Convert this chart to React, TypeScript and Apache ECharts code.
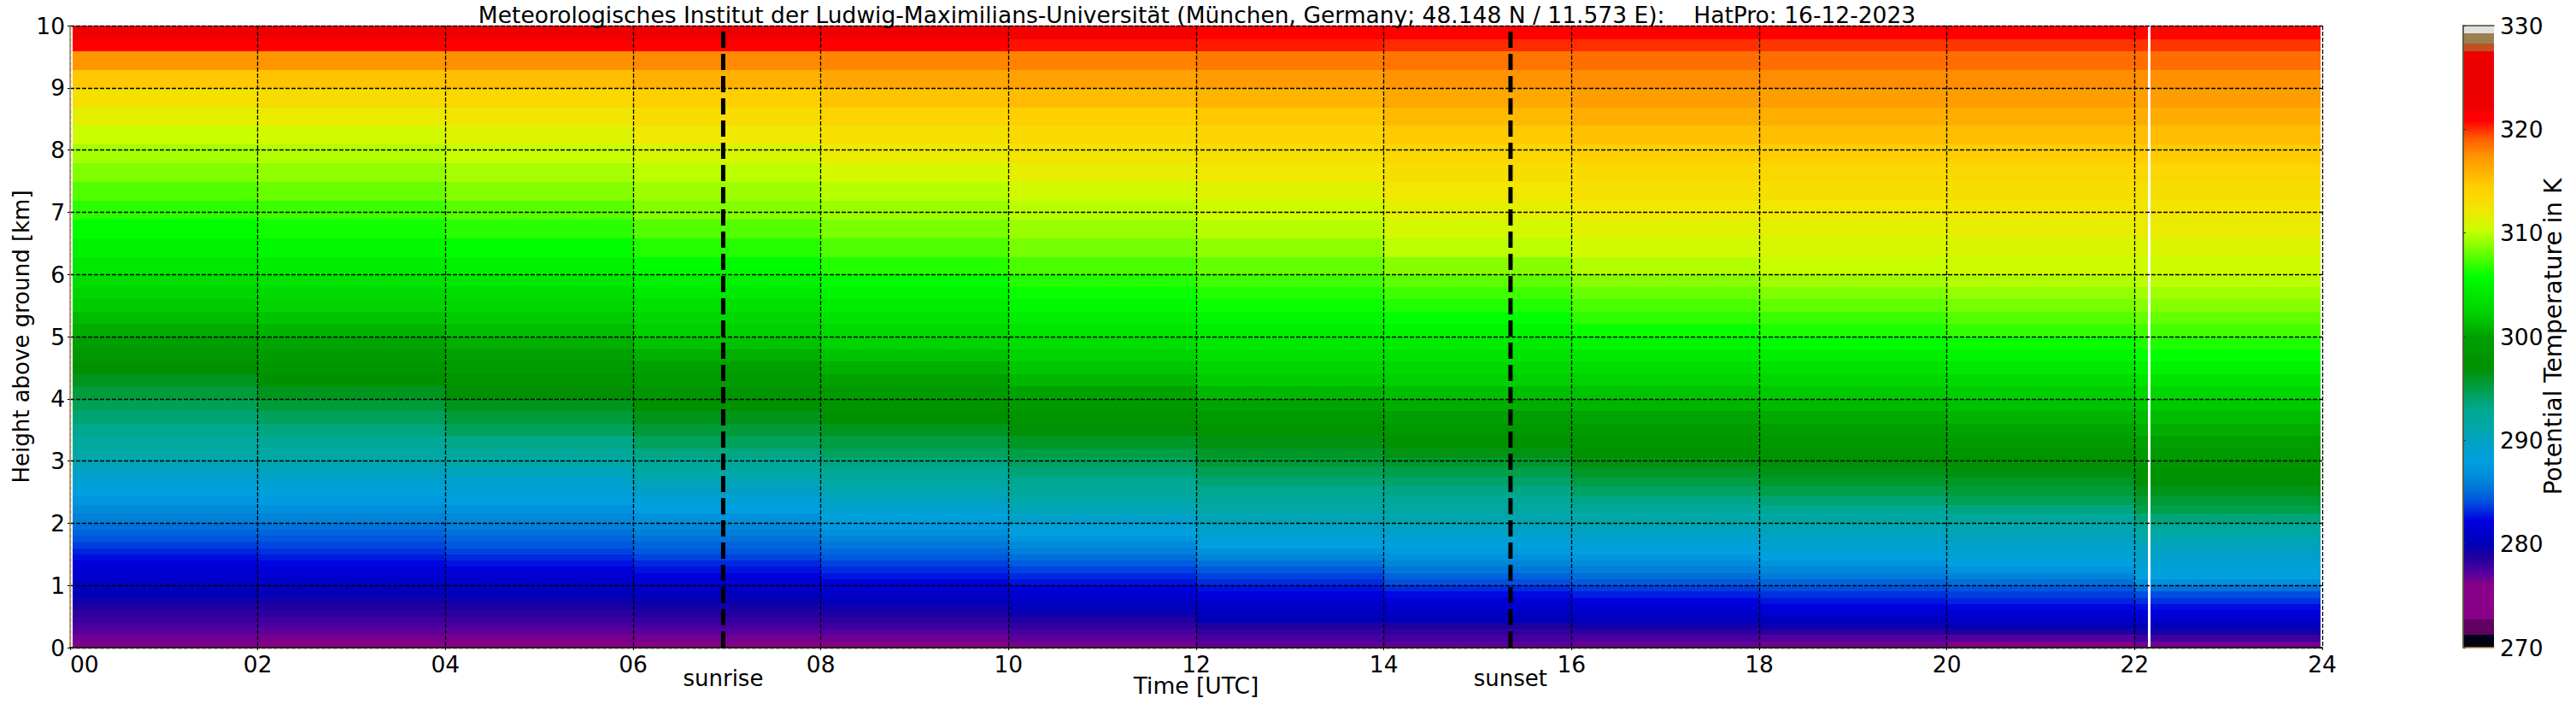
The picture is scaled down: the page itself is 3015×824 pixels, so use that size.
import React, { useEffect, useRef } from "react";
import * as echarts from "echarts";

const FONT = "DejaVu Sans";
const TITLE = "Meteorologisches Institut der Ludwig-Maximilians-Universität (München, Germany; 48.148 N / 11.573 E):\u00a0\u00a0\u00a0\u00a0HatPro: 16-12-2023";

// column edges in hours UTC
const timeEdges = [0.03, 2, 4, 6, 8, 10, 12, 14, 16, 18, 20, 22, 23.98];
// retrieval level edges in km
const heightEdges = [
  0, 0.1, 0.2, 0.3, 0.4, 0.5, 0.6, 0.7, 0.8, 0.9, 1.0, 1.1, 1.2, 1.3, 1.4, 1.5, 1.6, 1.7, 1.8, 1.9, 2.0,
  2.15, 2.3, 2.45, 2.6, 2.75, 2.9, 3.05, 3.2,
  3.4, 3.6, 3.8, 4.0, 4.2, 4.4, 4.6, 4.8, 5.0, 5.2, 5.4, 5.6, 5.8, 6.0,
  6.28, 6.58, 6.88, 7.18, 7.49, 7.79, 8.09, 8.39, 8.68, 9.0, 9.29, 9.59, 9.78, 10,
];

// potential temperature (K), bottom level to top level, one list per time column
const theta01 = [276.2,276.6,277.1,277.5,277.9,278.3,278.7,279.3,280,280.4,280.8,281.2,281.6,282,282.5,283,283.6,284.2,284.7,285.2,285.9,286.6,287.4,288.1,288.9,289.8,290.6,291.3,292,293,293.8,294.6,295.4,296.2,297,298.3,299.7,300.6,301.3,302,302.6,303.2,304,304.8,305.7,306.7,307.6,308.6,309.5,310.4,311.5,312.8,314.8,317.3,321.5,323];
const theta03 = [276,276.4,276.9,277.4,277.8,278.3,278.7,279.2,279.8,280.3,280.8,281.3,281.8,282.3,282.8,283.3,283.8,284.3,284.8,285.3,286,286.8,287.6,288.4,289.2,290,290.9,291.6,292.4,293.5,294.5,295.4,296.2,297,298.1,299.2,300.2,300.9,301.6,302.4,303,303.6,304.4,305.3,306.2,307.1,308.1,309,309.8,310.7,311.8,313.3,315,317.3,321.2,323];
const theta05 = [276,276.4,276.9,277.4,277.9,278.4,278.9,279.4,280,280.5,281,281.5,282,282.6,283.1,283.7,284.3,284.8,285.3,285.8,286.4,287.1,287.9,288.7,289.5,290.3,291.2,292.1,293.2,294.5,295.4,296.2,297,298,299,300,300.7,301.4,302,302.7,303.3,304,304.8,305.7,306.7,307.7,308.7,309.5,310.3,311.2,312.2,313.6,315.3,317.6,321,323];
const theta07 = [276,276.5,277.1,277.6,278.1,278.6,279.1,279.7,280.3,280.9,281.4,282,282.6,283.1,283.7,284.3,284.8,285.3,285.8,286.4,287,287.9,288.8,289.7,290.5,291.5,292.4,293.4,294.5,295.5,296.3,297.2,298.2,299.1,300,300.7,301.5,302.2,302.8,303.5,304.2,304.8,305.6,306.6,307.6,308.7,309.3,310,310.9,312,313.2,314.4,316,317.8,321,322.5];
const theta09 = [276,276.6,277.2,277.8,278.3,278.9,279.5,280.2,280.8,281.4,282,282.6,283.2,283.7,284.3,284.9,285.5,286.1,286.8,287.4,288.2,289.1,290,290.8,291.7,292.6,293.5,294.4,295.2,296.1,297,298,299,300,300.8,301.6,302.4,303,303.7,304.4,305.1,305.8,306.6,307.5,308.5,309.2,309.9,310.8,311.8,312.8,313.9,315,316.5,317.9,320.8,322];
const theta11 = [276.4,277,277.6,278.2,278.7,279.6,280.3,280.9,281.4,282,282.6,283.1,283.7,284.4,285.1,285.8,286.5,287.3,288,288.7,289.5,290.5,291.4,292.1,292.9,293.7,294.4,295.1,296,296.8,297.9,299.1,300.2,301,301.8,302.5,303.2,303.9,304.6,305.3,306,306.6,307.4,308.4,309.2,309.9,310.7,311.6,312.5,313.4,314.4,315.4,316.7,318,320.5,321.8];
const theta13 = [276.9,277.5,278.1,278.7,280,280.5,281,281.5,282,282.6,283.2,283.7,284.4,285.3,286.2,287.1,288,288.6,289.2,289.8,290.5,291.4,292.2,293,293.8,294.7,295.4,295.9,296.6,297.7,299,300.2,301.1,302,302.7,303.4,304,304.6,305.3,306,306.6,307.2,308,309,309.9,310.5,311.3,312.1,313,313.9,314.8,315.8,317,318.2,320.3,321.5];
const theta15 = [277,277.6,278.2,278.8,280.1,280.7,281.2,281.7,282.4,283.2,284,284.7,285.5,286.2,286.9,287.6,288.3,288.9,289.5,290.1,290.9,291.7,292.5,293.3,294.1,294.9,295.7,296.5,297.3,298.5,299.7,300.6,301.4,302.2,302.9,303.6,304.3,305.1,305.8,306.5,307.2,307.9,308.8,310,310.8,311.4,312.1,313,313.8,314.7,315.5,316.4,317.4,318.4,320,321];
const theta17 = [276.8,277.5,278.3,279.4,280.3,280.9,281.6,282.2,282.9,283.6,284.4,285.1,285.8,286.5,287.3,288,288.6,289.2,289.8,290.4,291.2,292.2,293.3,294.3,295.2,296,296.6,297.4,298.2,299.3,300.2,300.9,301.6,302.4,303.3,304.2,305.1,306,306.8,307.4,308.1,308.8,309.8,310.7,311.3,312,312.8,313.5,314.4,315.2,316.1,316.9,317.7,318.6,319.9,321];
const theta19 = [276.5,277.3,278.4,279.6,280.5,281.3,282,282.7,283.3,284,284.8,285.6,286.4,287.2,288,288.5,289.1,289.6,290.2,290.7,291.6,292.7,293.9,295,295.8,296.4,296.9,297.7,298.6,299.7,300.5,301.2,301.9,302.7,303.5,304.6,305.6,306.4,307.1,307.9,308.6,309.4,310.3,310.9,311.4,312.1,312.9,313.7,314.5,315.3,316.1,316.9,317.7,318.6,319.8,320.8];
const theta21 = [276.1,277.2,278.7,280.1,280.9,281.6,282.3,283,283.6,284.3,285.2,286.1,287.1,288,288.5,289,289.5,290,290.5,291,292,293.4,294.7,295.4,296,296.7,297.4,298.2,299.2,300.2,300.9,301.5,302.1,303,304,305,306,306.9,307.7,308.4,309.1,309.8,310.5,311,311.6,312.2,313,313.7,314.5,315.3,316.1,316.9,317.7,318.6,319.8,320.8];
const theta23 = [276.5,277.8,279.1,280.2,281,281.8,282.5,283.3,284,285.4,286.8,288,288.5,288.9,289.4,289.8,290.3,290.8,291.5,292.4,293.6,295,295.6,296.3,296.9,297.6,298.3,299.1,300,300.6,301.3,301.9,302.7,303.7,304.8,305.8,306.5,307.3,308,308.8,309.4,310,310.6,311.1,311.7,312.3,313,313.8,314.6,315.4,316.2,316.9,317.6,318.6,319.8,320.7];
const thetaColumns = [theta01, theta03, theta05, theta07, theta09, theta11, theta13, theta15, theta17, theta19, theta21, theta23];

// data gap (no measurement), hours UTC
const dataGaps = [[22.14, 22.17]];
const sunEvents = [
  { name: "sunrise", time: 6.96 },
  { name: "sunset", time: 15.35 },
];

// colour scale
const cmapLevels = [270,270.35,270.4,271.3,271.35,272.8,272.85,276,277.3,278.7,280,282.2,284,285.8,288,289.6,291.2,293,294.8,297,300,302.2,305.8,308.6,310.3,312,314.4,316,317.6,319,319.9,320.8,321.5,322,327.4,327.45,328.3,328.35,329.2,329.25,330];
const cmapColors = ["#100000","#100000","#000018","#000018","#600060","#600060","#880088","#880088","#5000a0","#2000a0","#0000b8","#0000e0","#0050e0","#0080d8","#00a0e0","#00a0c8","#00a8a8","#00a890","#00a050","#009000","#00a000","#00d000","#00ff00","#7fff00","#c8ff00","#f0e800","#ffd000","#ffb000","#ff9000","#ff6000","#ff3000","#ff0000","#ff0000","#ee0000","#ee0000","#c05020","#c05020","#9a8050","#9a8050","#e0e0e0","#e0e0e0"];

function hexToRgb(h: string) {
  return [parseInt(h.slice(1, 3), 16), parseInt(h.slice(3, 5), 16), parseInt(h.slice(5, 7), 16)];
}
function colorOf(v: number) {
  if (v <= cmapLevels[0]) return cmapColors[0];
  for (let i = 1; i < cmapLevels.length; i++) {
    if (v <= cmapLevels[i]) {
      const f = (v - cmapLevels[i - 1]) / (cmapLevels[i] - cmapLevels[i - 1]);
      const a = hexToRgb(cmapColors[i - 1]);
      const b = hexToRgb(cmapColors[i]);
      return `rgb(${a.map((c, k) => Math.round(c + (b[k] - c) * f)).join(",")})`;
    }
  }
  return cmapColors[cmapColors.length - 1];
}

const TAN = "#a89060";

function cellRender(_: any, api: any) {
  const p0 = api.coord([api.value(0), api.value(2)]);
  const p1 = api.coord([api.value(1), api.value(3)]);
  const x0 = Math.round(p0[0]);
  const x1 = Math.round(p1[0]);
  const y0 = Math.round(p0[1]);
  const y1 = Math.round(p1[1]);
  return {
    type: "rect",
    shape: { x: x0, y: y1, width: x1 - x0, height: y0 - y1 },
    style: { fill: api.value(4) < 0 ? "#ffffff" : colorOf(api.value(4)) },
  };
}

export default function App() {
  const ref = useRef<HTMLDivElement>(null);
  useEffect(() => {
    document.body.style.margin = "0";
    const chart = echarts.init(ref.current!, null, { renderer: "svg" });

    const cells: number[][] = [];
    thetaColumns.forEach((col, i) => {
      col.forEach((v, j) => {
        cells.push([timeEdges[i], timeEdges[i + 1], heightEdges[j], heightEdges[j + 1], v]);
      });
    });
    const gapCells = dataGaps.map((g) => [g[0], g[1], 0, 10, -1]);
    const barCells: number[][] = [];
    for (let t = cmapLevels[0]; t < 330; t += 0.25) barCells.push([0, 1, t, t + 0.25, t + 0.125]);

    const label = { fontFamily: FONT, fontSize: 26.5, color: "#000" };
    const dashed = { show: true, lineStyle: { color: "#000", width: 1.3, type: [5, 2] as any } };

    chart.setOption({
      animation: false,
      backgroundColor: "#fff",
      title: {
        text: TITLE,
        left: 1396,
        top: -1,
        textAlign: "center",
        textStyle: { fontFamily: FONT, fontSize: 26.5, fontWeight: "normal", color: "#000" },
      },
      grid: [
        { left: 82, top: 30, width: 2636, height: 728, outerBoundsMode: "none" },
        { left: 2883, top: 30, width: 36, height: 728, outerBoundsMode: "none" },
      ],
      xAxis: [
        {
          gridIndex: 0, type: "value", min: 0, max: 24, interval: 2, z: 3,
          name: "Time [UTC]", nameLocation: "middle", nameGap: 31, nameMoveOverlap: false,
          nameTextStyle: { ...label, fontSize: 26.5 },
          axisLabel: { ...label, margin: 6, alignMinLabel: "left", formatter: (v: number) => String(v).padStart(2, "0") },
          axisLine: { lineStyle: { color: TAN, width: 1.5 } },
          axisTick: { length: 3, lineStyle: { color: "#000" } },
          splitLine: dashed,
        },
        {
          gridIndex: 0, type: "value", position: "top", min: 0, max: 24, z: 3,
          axisLabel: { show: false }, axisTick: { show: false }, splitLine: { show: false },
          axisLine: { show: true, lineStyle: { color: "#000", width: 1.5 } },
        },
        {
          gridIndex: 1, type: "value", min: 0, max: 1, z: 3,
          axisLabel: { show: false }, axisTick: { show: false }, splitLine: { show: false },
          axisLine: { show: true, lineStyle: { color: TAN, width: 1.5 } },
        },
        {
          gridIndex: 1, type: "value", position: "top", min: 0, max: 1, z: 3,
          axisLabel: { show: false }, axisTick: { show: false }, splitLine: { show: false },
          axisLine: { show: true, lineStyle: { color: "#4a4a30", width: 1.5 } },
        },
      ],
      yAxis: [
        {
          gridIndex: 0, type: "value", min: 0, max: 10, interval: 1, z: 3,
          name: "Height above ground [km]", nameLocation: "middle", nameGap: 44, nameRotate: 90, nameMoveOverlap: false,
          nameTextStyle: { ...label, fontSize: 26 },
          axisLabel: { ...label, margin: 6 },
          axisLine: { show: true, lineStyle: { color: TAN, width: 1 } },
          axisTick: { show: true, length: 3, lineStyle: { color: "#000" } },
          splitLine: dashed,
        },
        {
          gridIndex: 0, type: "value", position: "right", min: 0, max: 10, z: 3,
          axisLabel: { show: false }, axisTick: { show: false }, splitLine: { show: false },
          axisLine: { show: true, lineStyle: { color: TAN, width: 1.5 } },
        },
        {
          gridIndex: 1, type: "value", position: "right", min: 270, max: 330, interval: 10, z: 3,
          name: "Potential Temperature in K", nameLocation: "middle", nameGap: 55, nameRotate: 90, nameMoveOverlap: false,
          nameTextStyle: { ...label, fontSize: 28 },
          axisLabel: { ...label, margin: 7 },
          axisLine: { show: true, lineStyle: { color: TAN, width: 1.5 } },
          axisTick: { show: true, length: 3, lineStyle: { color: "#333" } },
          splitLine: { show: false },
        },
        {
          gridIndex: 1, type: "value", position: "left", min: 270, max: 330, z: 3,
          axisLabel: { show: false }, axisTick: { show: false }, splitLine: { show: false },
          axisLine: { show: true, lineStyle: { color: "#4a4a30", width: 1.5 } },
        },
      ],
      series: [
        {
          type: "custom", name: "Potential Temperature", xAxisIndex: 0, yAxisIndex: 0, z: 1,
          coordinateSystem: "cartesian2d", renderItem: cellRender, data: cells,
          encode: { x: [0, 1], y: [2, 3] }, silent: true,
        },
        {
          type: "custom", name: "data gap", xAxisIndex: 0, yAxisIndex: 0, z: 2,
          coordinateSystem: "cartesian2d", renderItem: cellRender, data: gapCells,
          encode: { x: [0, 1], y: [2, 3] }, silent: true,
        },
        {
          type: "custom", name: "colour bar", xAxisIndex: 2, yAxisIndex: 2, z: 1,
          coordinateSystem: "cartesian2d", renderItem: cellRender, data: barCells,
          encode: { x: [0, 1], y: [2, 3] }, silent: true,
        },
        {
          type: "custom", name: "sun", xAxisIndex: 0, yAxisIndex: 0, z: 5,
          coordinateSystem: "cartesian2d",
          data: sunEvents.map((s) => [s.time, 0, 10]),
          encode: { x: 0, y: [1, 2] },
          silent: true,
          renderItem: (params: any, api: any) => {
            const p0 = api.coord([api.value(0), api.value(1)]);
            const p1 = api.coord([api.value(0), api.value(2)]);
            return {
              type: "group",
              children: [
                {
                  type: "line",
                  shape: { x1: p0[0], y1: p0[1], x2: p1[0], y2: p1[1] },
                  style: { stroke: "#000", lineWidth: 5, lineDash: [19, 7] },
                },
                {
                  type: "text",
                  x: p0[0],
                  y: p0[1] + 36,
                  style: {
                    text: sunEvents[params.dataIndex].name,
                    align: "center",
                    verticalAlign: "middle",
                    fontFamily: FONT,
                    fontSize: 26,
                    fill: "#000",
                  },
                },
              ],
            };
          },
        },
      ],
    });
    return () => chart.dispose();
  }, []);
  return <div ref={ref} style={{ position: "absolute", left: 0, top: 0, width: 3015, height: 824 }} />;
}
